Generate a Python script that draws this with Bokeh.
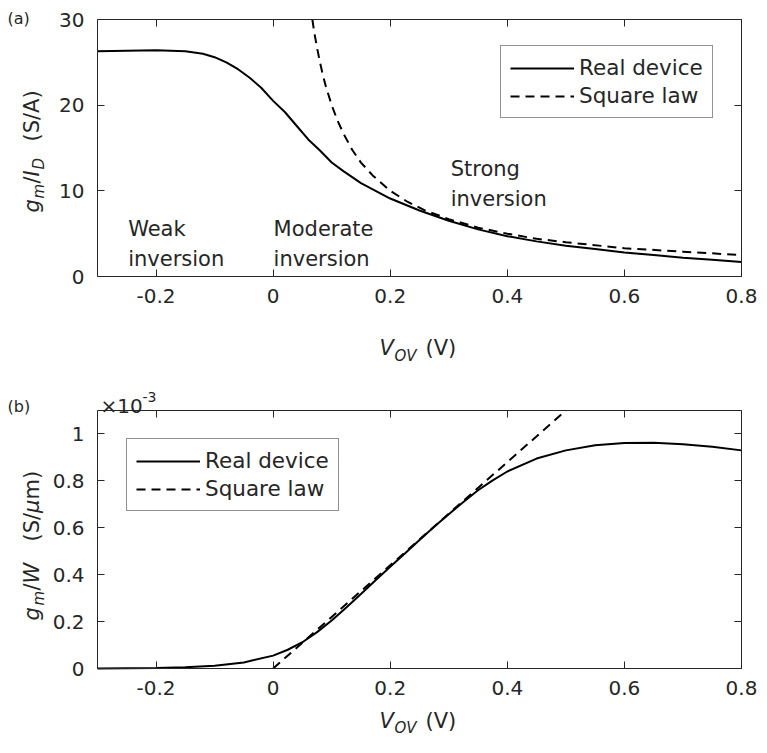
import math
from bokeh.plotting import figure
from bokeh.models import Range1d, LinearAxis, FixedTicker, Label, Legend, LegendItem
from bokeh.layouts import column
from bokeh.embed import file_html
from bokeh.resources import INLINE

# ---------------- data ----------------
# panel (a): gm/ID (S/A) versus overdrive voltage (V)
vov_real_a = [-0.30, -0.25, -0.20, -0.15, -0.12, -0.10, -0.08, -0.06, -0.04, -0.02,
              0.00, 0.02, 0.04, 0.06, 0.08, 0.10, 0.12, 0.15, 0.20, 0.25,
              0.30, 0.35, 0.40, 0.45, 0.50, 0.55, 0.60, 0.65, 0.70, 0.75, 0.80]
gmid_real = [26.3, 26.35, 26.4, 26.3, 26.0, 25.6, 25.0, 24.2, 23.2, 22.0,
             20.5, 19.2, 17.6, 16.0, 14.7, 13.3, 12.3, 10.9, 9.1, 7.7,
             6.5, 5.5, 4.7, 4.1, 3.6, 3.2, 2.8, 2.5, 2.2, 1.95, 1.7]
vov_sq_a = [0.067, 0.07, 0.075, 0.08, 0.085, 0.09, 0.10, 0.11, 0.12, 0.135, 0.15, 0.17,
            0.20, 0.23, 0.26, 0.30, 0.35, 0.40, 0.45, 0.50, 0.60, 0.70, 0.80]
gmid_sq = [30.0, 28.6, 26.7, 25.0, 23.5, 22.2, 20.0, 18.2, 16.7, 14.8, 13.3, 11.8,
           10.0, 8.7, 7.7, 6.7, 5.7, 5.0, 4.4, 4.0, 3.3, 2.9, 2.5]

# panel (b): gm/W (x1e-3 S/um) versus overdrive voltage (V)
vov_real_b = [-0.30, -0.25, -0.20, -0.15, -0.10, -0.05, 0.00, 0.025, 0.05, 0.075,
              0.10, 0.125, 0.15, 0.175, 0.20, 0.225, 0.25, 0.275, 0.30, 0.325,
              0.35, 0.375, 0.40, 0.45, 0.50, 0.55, 0.60, 0.65, 0.70, 0.75, 0.80]
gmw_real = [0.000, 0.001, 0.002, 0.005, 0.012, 0.026, 0.055, 0.080, 0.112, 0.155,
            0.205, 0.260, 0.318, 0.376, 0.434, 0.490, 0.548, 0.604, 0.658, 0.710,
            0.760, 0.802, 0.840, 0.895, 0.930, 0.952, 0.961, 0.962, 0.956, 0.945, 0.930]
vov_sq_b = [0.0, 0.5]
gmw_sq = [0.0, 1.1]

x_lim = (-0.3, 0.8)
ya_lim = (0.0, 30.0)
yb_lim = (0.0, 1.1)
x_ticks = [-0.2, 0.0, 0.2, 0.4, 0.6, 0.8]
x_tick_labels = ["-0.2", "0", "0.2", "0.4", "0.6", "0.8"]
ya_ticks = [0, 10, 20, 30]
ya_tick_labels = ["0", "10", "20", "30"]
yb_ticks = [0.0, 0.2, 0.4, 0.6, 0.8, 1.0]
yb_tick_labels = ["0", "0.2", "0.4", "0.6", "0.8", "1"]
legend_labels = ["Real device", "Square law"]

FONT = "DejaVu Sans"
TXT = "#262626"

# pixel geometry (page coordinates, origin at top-left of the first figure)
W = 759
H1, H2 = 372, 365
FL, FR = 97, 741          # plot box left / right
A_T, A_B = 19, 276        # panel a box top / bottom
B_T, B_B = 410, 668       # panel b box top / bottom
SC = (FR - FL) / 651.0


def gx(ref_px):
    return FL + (ref_px - 97) * SC


def X(px):
    return x_lim[0] + (px - FL) * (x_lim[1] - x_lim[0]) / (FR - FL)


def YA(py):
    return ya_lim[1] * (A_B - py) / (A_B - A_T)


def YB(py):
    return yb_lim[1] * (B_B - py) / (B_B - B_T)


def make_fig(height, yr, ylim, yticks, ylabels):
    p = figure(width=W, height=height, output_backend="svg", toolbar_location=None,
               x_range=Range1d(X(0), X(W)), y_range=Range1d(*yr),
               x_axis_type=None, y_axis_type=None,
               min_border_left=0, min_border_right=0,
               min_border_top=0, min_border_bottom=0)
    p.outline_line_color = None
    p.background_fill_color = "white"
    p.border_fill_color = "white"
    specs = [("below", x_ticks, x_tick_labels, True, ylim[0], x_lim),
             ("above", x_ticks, x_tick_labels, False, ylim[1], x_lim),
             ("left", yticks, ylabels, True, x_lim[0], ylim),
             ("right", yticks, ylabels, False, x_lim[1], ylim)]
    for place, ticks, labels, show, loc, bounds in specs:
        ax = LinearAxis(ticker=FixedTicker(ticks=ticks), fixed_location=loc, bounds=bounds)
        ax.major_label_overrides = {t: l for t, l in zip(ticks, labels)}
        ax.axis_line_color = TXT
        ax.axis_line_width = 1
        ax.major_tick_line_color = TXT
        ax.major_tick_in = 7
        ax.major_tick_out = 0
        ax.minor_tick_line_color = None
        ax.major_label_text_font = FONT
        if show:
            ax.major_label_text_color = TXT
            ax.major_label_text_font_size = "20px"
            ax.major_label_standoff = 12 if place == "below" else 13
        else:
            ax.major_label_text_color = None
            ax.major_label_text_alpha = 0
            ax.major_label_text_font_size = "0px"
            ax.major_label_standoff = 0
        p.add_layout(ax, place)
    return p


def lab(p, x, y, text, size=21, style="normal", angle=0.0):
    p.add_layout(Label(x=x, y=y, text=text, text_font=FONT, text_font_size=f"{size}px",
                       text_font_style=style, text_color=TXT, angle=angle,
                       text_align="left", text_baseline="alphabetic"))


def add_legend(p, r1, r2, loc):
    leg = Legend(items=[LegendItem(label=legend_labels[0], renderers=[r1]),
                        LegendItem(label=legend_labels[1], renderers=[r2])],
                 location=loc, orientation="vertical")
    leg.label_text_font = FONT
    leg.label_text_font_size = "21.5px"
    leg.label_text_color = TXT
    leg.glyph_width = 64
    leg.glyph_height = 20
    leg.label_standoff = 5
    leg.padding = 9
    leg.spacing = 3
    leg.margin = 0
    leg.border_line_color = TXT
    leg.border_line_width = 1
    leg.background_fill_color = "white"
    leg.background_fill_alpha = 1.0
    p.add_layout(leg)


DASH = "9 6"
up = math.pi / 2

# ---------------- panel (a) ----------------
p1 = make_fig(H1, (YA(H1), YA(0)), ya_lim, ya_ticks, ya_tick_labels)
r1 = p1.line(vov_real_a, gmid_real, line_color="black", line_width=2)
r2 = p1.line(vov_sq_a, gmid_sq, line_color="black", line_width=2, line_dash=DASH)
add_legend(p1, r1, r2, (round(gx(504)), H1 - 118))

lab(p1, X(7), YA(18), "(a)", 16)
lab(p1, X(31), YA(212), "g", 21, "italic", up)
lab(p1, X(38), YA(198), "m", 15, "italic", up)
lab(p1, X(31), YA(183), "/", 21, "normal", up)
lab(p1, X(31), YA(176), "I", 21, "italic", up)
lab(p1, X(38), YA(169), "D", 15, "italic", up)
lab(p1, X(31), YA(141), "(S/A)", 21, "normal", up)

lab(p1, X(gx(128)), YA(228), "Weak")
lab(p1, X(gx(128)), YA(258), "inversion")
lab(p1, X(gx(275)), YA(228), "Moderate")
lab(p1, X(gx(275)), YA(258), "inversion")
lab(p1, X(gx(454)), YA(168), "Strong")
lab(p1, X(gx(454)), YA(198), "inversion")

xa = gx(382)
lab(p1, X(xa), YA(347), "V", 21, "italic")
lab(p1, X(xa + 15), YA(355), "OV", 15, "italic")
lab(p1, X(xa + 46), YA(347), "(V)", 21)

# ---------------- panel (b) ----------------
p2 = make_fig(H2, (YB(H1 + H2), YB(H1)), yb_lim, yb_ticks, yb_tick_labels)
s1 = p2.line(vov_real_b, gmw_real, line_color="black", line_width=2)
s2 = p2.line(vov_sq_b, gmw_sq, line_color="black", line_width=2, line_dash=DASH)
add_legend(p2, s1, s2, (round(gx(126)), H1 + H2 - 511))

lab(p2, X(7), YB(406), "(b)", 16)
lab(p2, X(100), YB(405), "\u00d710", 20)
lab(p2, X(142), YB(396), "-3", 14)

lab(p2, X(31), YB(620), "g", 21, "italic", up)
lab(p2, X(38), YB(605), "m", 15, "italic", up)
lab(p2, X(31), YB(590), "/", 21, "normal", up)
lab(p2, X(31), YB(583), "W", 21, "italic", up)
lab(p2, X(31), YB(541), "(S/", 21, "normal", up)
lab(p2, X(31), YB(512.5), "\u03bc", 21, "italic", up)
lab(p2, X(31), YB(499), "m)", 21, "normal", up)

lab(p2, X(xa), YB(720), "V", 21, "italic")
lab(p2, X(xa + 15), YB(727), "OV", 15, "italic")
lab(p2, X(xa + 46), YB(720), "(V)", 21)

layout = column(p1, p2, spacing=0)
open("out.html", "w").write(file_html(layout, INLINE))
